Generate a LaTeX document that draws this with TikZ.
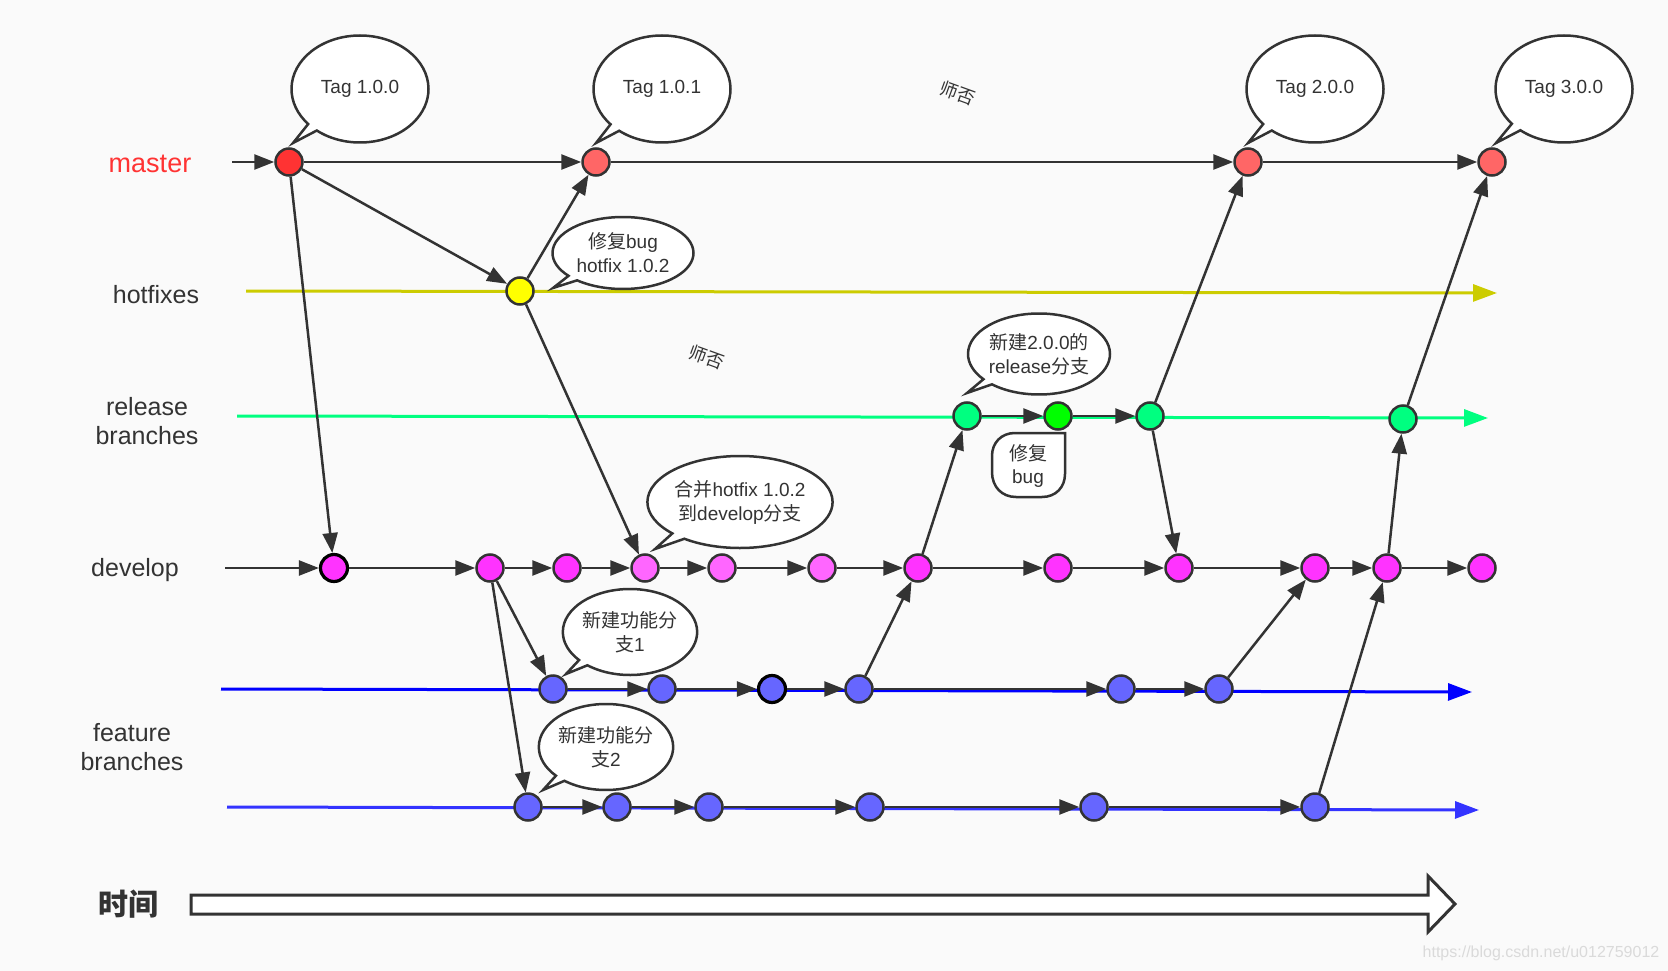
\documentclass[tikz,border=0pt]{standalone}
\usepackage{fontspec}
\setmainfont{Liberation Sans}
\newfontfamily\cjkf{Noto Sans CJK SC}
\usetikzlibrary{arrows.meta,shapes.callouts,shapes.geometric,calc}
\definecolor{bg}{HTML}{FAFAFA}
\definecolor{ink}{HTML}{333333}
\definecolor{mred}{HTML}{FF3333}
\definecolor{mredl}{HTML}{FF6666}
\definecolor{hyel}{HTML}{FFFF00}
\definecolor{hline}{HTML}{CCCC00}
\definecolor{rgreen}{HTML}{00FF80}
\definecolor{rgreenb}{HTML}{00FF00}
\definecolor{dmag}{HTML}{FF33FF}
\definecolor{dmagl}{HTML}{FF66FF}
\definecolor{fblue}{HTML}{6666FF}
\definecolor{blineA}{HTML}{0000FF}
\definecolor{blineB}{HTML}{3333FF}
\definecolor{wmark}{HTML}{DADADA}
\newcommand\zhs[1]{{\cjkf #1}}
\begin{document}
\begin{tikzpicture}[x=1pt,y=-1pt,
  commit/.style={circle,draw=ink,line width=2.5pt,minimum size=27pt,inner sep=0pt},
  strongc/.style={draw=black,line width=3.2pt},
  flow/.style={draw=ink,line width=2.5pt,-{Triangle[length=20pt,width=15pt]}},
  branchline/.style={line width=3pt,-{Triangle[length=24pt,width=17pt]}},
  bubble/.style={ellipse callout,draw=ink,fill=white,line width=2.5pt,inner sep=0pt,
    callout pointer arc=10,text=ink,font=\fontsize{19}{24}\selectfont,align=center},
  lbl/.style={text=ink,font=\fontsize{25}{29}\selectfont,align=center},
  wm/.style={text=ink,font=\cjkf\fontsize{18}{18}\selectfont,rotate=-20}
]
% background / bounding box
\fill[bg] (0,0) rectangle (1668,971);
\useasboundingbox (0,0) rectangle (1668,971);

% branch lines (coloured)
\coordinate (hs) at (246,291);  \coordinate (he) at (1497,293);
\coordinate (rs) at (237,416);  \coordinate (re) at (1488,418);
\coordinate (fas) at (221,689); \coordinate (fae) at (1472,692);
\coordinate (fbs) at (227,807); \coordinate (fbe) at (1479,810);
\draw[branchline,draw=hline,-{Triangle[length=24pt,width=17pt,fill=hline]}] (hs) -- (he);
\draw[branchline,draw=rgreen,-{Triangle[length=24pt,width=17pt,fill=rgreen]}] (rs) -- (re);
\draw[branchline,draw=blineA,-{Triangle[length=24pt,width=17pt,fill=blineA]}] (fas) -- (fae);
\draw[branchline,draw=blineB,-{Triangle[length=24pt,width=17pt,fill=blineB]}] (fbs) -- (fbe);

% labels
\node[lbl,text=mred,font=\fontsize{27}{30}\selectfont] (lmaster) at (150,164) {master};
\node[lbl] (lhot) at (156,295) {hotfixes};
\node[lbl] (lrel) at (147,421) {release\\branches};
\node[lbl] (ldev) at (135,570) {develop};
\node[lbl] (lfeat) at (132,747) {feature\\branches};
\node[text=ink,font=\cjkf\bfseries\fontsize{30}{30}\selectfont] (ltime) at (128,904) {时间};
\node[wm] (wm1) at (958,93) {师否};
\node[wm] (wm2) at (707,357) {师否};
\node[text=wmark,font=\fontsize{16}{16}\selectfont] (wurl) at (1541,953) {https://blog.csdn.net/u012759012};

% time arrow
\draw[draw=ink,fill=white,line width=3pt,line join=miter]
  (191,895) -- (1428,895) -- (1428,876) -- (1455,904) -- (1428,932) -- (1428,914) -- (191,914) -- cycle;

% start coordinates
\coordinate (ms) at (232,162);
\coordinate (ds) at (225,568);

% commits
\node[commit,fill=mred] (m1) at (289,162) {};
\node[commit,fill=mredl] (m2) at (596,162) {};
\node[commit,fill=mredl] (m3) at (1248,162) {};
\node[commit,fill=mredl] (m4) at (1492,162) {};
\node[commit,fill=hyel] (h) at (520,291) {};
\node[commit,fill=rgreen] (r1) at (967,416) {};
\node[commit,fill=rgreenb] (r2) at (1058,416) {};
\node[commit,fill=rgreen] (r3) at (1150,416) {};
\node[commit,fill=rgreen] (r4) at (1403,419) {};
\node[commit,fill=dmag,strongc] (d1) at (334,568) {};
\node[commit,fill=dmag] (d2) at (490,568) {};
\node[commit,fill=dmag] (d3) at (567,568) {};
\node[commit,fill=dmagl] (d4) at (645,568) {};
\node[commit,fill=dmagl] (d5) at (722,568) {};
\node[commit,fill=dmagl] (d6) at (822,568) {};
\node[commit,fill=dmag] (d7) at (918,568) {};
\node[commit,fill=dmag] (d8) at (1058,568) {};
\node[commit,fill=dmag] (d9) at (1179,568) {};
\node[commit,fill=dmag] (d10) at (1315,568) {};
\node[commit,fill=dmag] (d11) at (1387,568) {};
\node[commit,fill=dmag] (d12) at (1482,568) {};
\node[commit,fill=fblue] (fa1) at (553,689) {};
\node[commit,fill=fblue] (fa2) at (662,689) {};
\node[commit,fill=fblue,strongc] (fa3) at (772,689) {};
\node[commit,fill=fblue] (fa4) at (859,689) {};
\node[commit,fill=fblue] (fa5) at (1121,689) {};
\node[commit,fill=fblue] (fa6) at (1219,689) {};
\node[commit,fill=fblue] (fb1) at (528,807) {};
\node[commit,fill=fblue] (fb2) at (617,807) {};
\node[commit,fill=fblue] (fb3) at (709,807) {};
\node[commit,fill=fblue] (fb4) at (870,807) {};
\node[commit,fill=fblue] (fb5) at (1094,807) {};
\node[commit,fill=fblue] (fb6) at (1315,807) {};

% connectors
\draw[flow] (ms) -- (m1);
\draw[flow] (m1) -- (m2);
\draw[flow] (m2) -- (m3);
\draw[flow] (m3) -- (m4);
\draw[flow] (m1) -- (h);
\draw[flow] (h) -- (m2);
\draw[flow] (h) -- (d4);
\draw[flow] (m1) -- (d1);
\draw[flow] (ds) -- (d1);
\foreach \a/\b in {d1/d2,d2/d3,d3/d4,d4/d5,d5/d6,d6/d7,d7/d8,d8/d9,d9/d10,d10/d11,d11/d12,
  fa1/fa2,fa2/fa3,fa3/fa4,fa4/fa5,fa5/fa6,fb1/fb2,fb2/fb3,fb3/fb4,fb4/fb5,fb5/fb6,
  d2/fa1,d2/fb1,fa4/d7,d7/r1,r1/r2,r2/r3,r3/m3,r3/d9,fa6/d10,fb6/d11,d11/r4,r4/m4}
  \draw[flow] (\a) -- (\b);

% callouts
\coordinate (t1) at (293,143);
\coordinate (t2) at (596,143);
\coordinate (t3) at (1248,143);
\coordinate (t4) at (1496,143);
\coordinate (t5) at (553,288);
\coordinate (t6) at (967,393);
\coordinate (t7) at (655,549);
\coordinate (t8) at (566,674);
\coordinate (t9) at (543,790);
\node[bubble,minimum width=137pt,minimum height=107pt,callout absolute pointer={(t1)}] (b1) at (360,89) {Tag 1.0.0};
\node[bubble,minimum width=137pt,minimum height=107pt,callout absolute pointer={(t2)}] (b2) at (662,89) {Tag 1.0.1};
\node[bubble,minimum width=137pt,minimum height=107pt,callout absolute pointer={(t3)}] (b3) at (1315,89) {Tag 2.0.0};
\node[bubble,minimum width=137pt,minimum height=107pt,callout absolute pointer={(t4)}] (b4) at (1564,89) {Tag 3.0.0};
\node[bubble,minimum width=141pt,minimum height=72pt,callout absolute pointer={(t5)}] (b5) at (623,253) {\zhs{修复}bug\\hotfix 1.0.2};
\node[bubble,minimum width=142pt,minimum height=81pt,callout absolute pointer={(t6)}] (b6) at (1039,354) {\zhs{新建}2.0.0\zhs{的}\\release\zhs{分支}};
\node[bubble,minimum width=169pt,minimum height=92pt,callout absolute pointer={(t7)}] (b7) at (740,502) {\zhs{合并}hotfix 1.0.2\\\zhs{到}develop\zhs{分支}};
\node[bubble,minimum width=128pt,minimum height=86pt,callout absolute pointer={(t8)}] (b8) at (630,632) {\zhs{新建功能分}\\\zhs{支}1};
\node[bubble,minimum width=128pt,minimum height=86pt,callout absolute pointer={(t9)}] (b9) at (606,747) {\zhs{新建功能分}\\\zhs{支}2};

% 修复 bug note
\draw[draw=ink,fill=white,line width=2.5pt]
  (1065,433) -- (1065,474) .. controls (1065,487) and (1056,497) .. (1042,497)
  -- (1016,497) .. controls (1002,497) and (992,487) .. (992,472)
  -- (992,456) .. controls (992,443) and (1001,433) .. (1015,433) -- cycle;
\node[text=ink,font=\fontsize{19}{23}\selectfont,align=center] (bugnote) at (1028,466) {\zhs{修复}\\bug};
\end{tikzpicture}
\end{document}
